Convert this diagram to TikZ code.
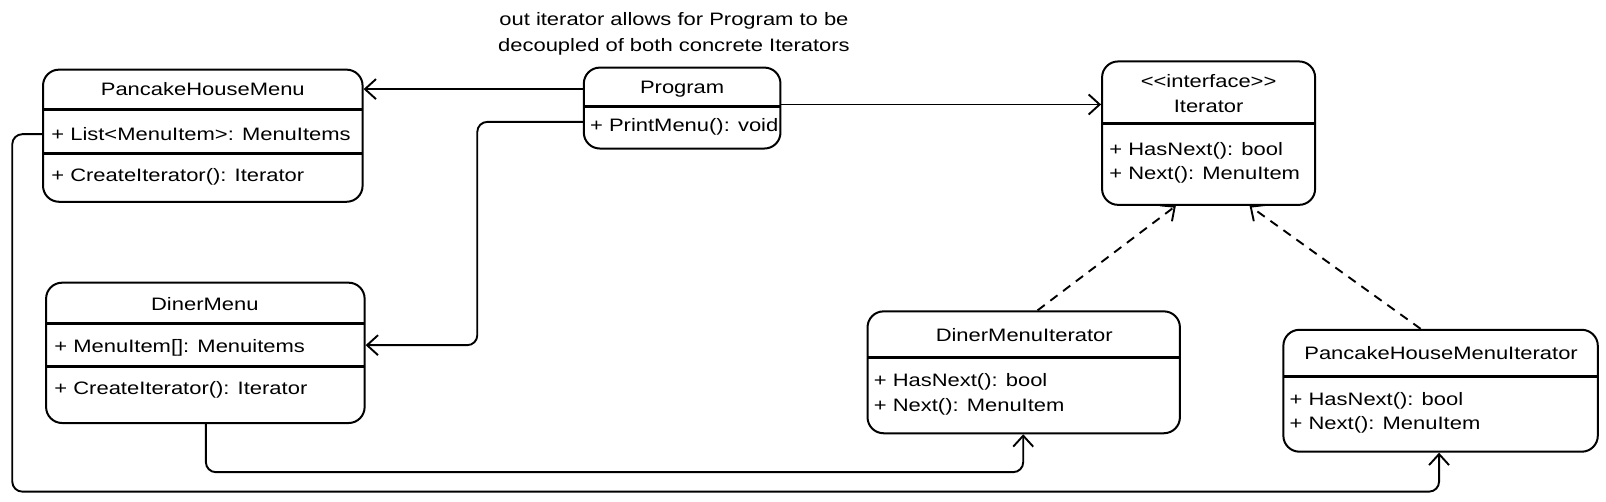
\documentclass[tikz,border=0pt]{standalone}
\usepackage{fontspec}
\setmainfont{Liberation Sans}[FakeStretch=1.22]
\usetikzlibrary{arrows.meta,fit}
\begin{document}
\begin{tikzpicture}[x=1.0242pt,y=-1.0242pt,
  box/.style={draw, line width=2pt, rounded corners=16pt, inner sep=0pt},
  sepline/.style={line width=3pt},
  txt/.style={font=\fontsize{18}{26}\selectfont, inner sep=0pt},
  member/.style={txt, anchor=west},
  arr/.style={line width=1.9pt, -{Straight Barb[length=11pt,width=20pt,line width=1.9pt]}},
  dsh/.style={arr, dash pattern=on 9pt off 7pt}]
\useasboundingbox (0,0) rectangle (1568,490);

% boxes
\node[box, fit={(42,68)(354,197)}] (phm) {};
\node[box, fit={(570,66)(762,145)}] (prog) {};
\node[box, fit={(1076,60)(1284,200)}] (iter) {};
\node[box, fit={(45,276)(356,413)}] (dm) {};
\node[box, fit={(847,304)(1152,423)}] (dmi) {};
\node[box, fit={(1253,322)(1560,441)}] (phmi) {};

% separators
\draw[sepline] (42,107) -- (354,107);
\draw[sepline] (42,150) -- (354,150);
\draw[sepline] (570,104) -- (762,104);
\draw[sepline] (1076,121) -- (1284,121);
\draw[sepline] (45,316) -- (356,316);
\draw[sepline] (45,358) -- (356,358);
\draw[sepline] (847,349) -- (1152,349);
\draw[sepline] (1253,368) -- (1560,368);

% texts
\node[txt, align=center] (note) at (658,33) {out iterator allows for Program to be\\decoupled of both concrete Iterators};

\node[txt] (phm-t) at (198,87) {PancakeHouseMenu};
\node[member] (phm-a) at (50,131) {+ List<MenuItem>: MenuItems};
\node[member] (phm-o) at (50,173) {+ CreateIterator(): Iterator};

\node[txt] (prog-t) at (666,87) {Program};
\node[member] (prog-o) at (576,124) {+ PrintMenu(): void};

\node[txt] (iter-s) at (1180,79) {<{}<interface>{}>};
\node[txt] (iter-t) at (1180,104) {Iterator};
\node[member] (iter-a) at (1083,147) {+ HasNext(): bool};
\node[member] (iter-b) at (1083,171) {+ Next(): MenuItem};

\node[txt] (dm-t) at (200,297) {DinerMenu};
\node[member] (dm-a) at (53,340) {+ MenuItem[]: Menuitems};
\node[member] (dm-o) at (53,381) {+ CreateIterator(): Iterator};

\node[txt] (dmi-t) at (1000,327) {DinerMenuIterator};
\node[member] (dmi-a) at (853,373) {+ HasNext(): bool};
\node[member] (dmi-b) at (853,397) {+ Next(): MenuItem};

\node[txt] (phmi-t) at (1407,345) {PancakeHouseMenuIterator};
\node[member] (phmi-a) at (1259,391) {+ HasNext(): bool};
\node[member] (phmi-b) at (1259,415) {+ Next(): MenuItem};

% connectors
\draw[arr] (prog.west |- 0,87) -- (phm.east |- 0,87);
\draw[arr] (prog.east |- 0,102) -- (iter.west |- 0,102);
\draw[arr, rounded corners=10pt] (prog.west |- 0,119) -| (466,337) -- (dm.east |- 0,337);
\draw[arr, rounded corners=10pt] (phm.west |- 0,131) -| (12,480) -| (phmi.south -| 1405,0);
\draw[arr, rounded corners=10pt] (dm.south -| 201,0) |- (999,461) -- (dmi.south -| 999,0);
\draw[dsh] (dmi.north -| 1013,0) -- (iter.south -| 1148,0);
\draw[dsh] (phmi.north -| 1387,0) -- (iter.south -| 1220,0);
\end{tikzpicture}
\end{document}
